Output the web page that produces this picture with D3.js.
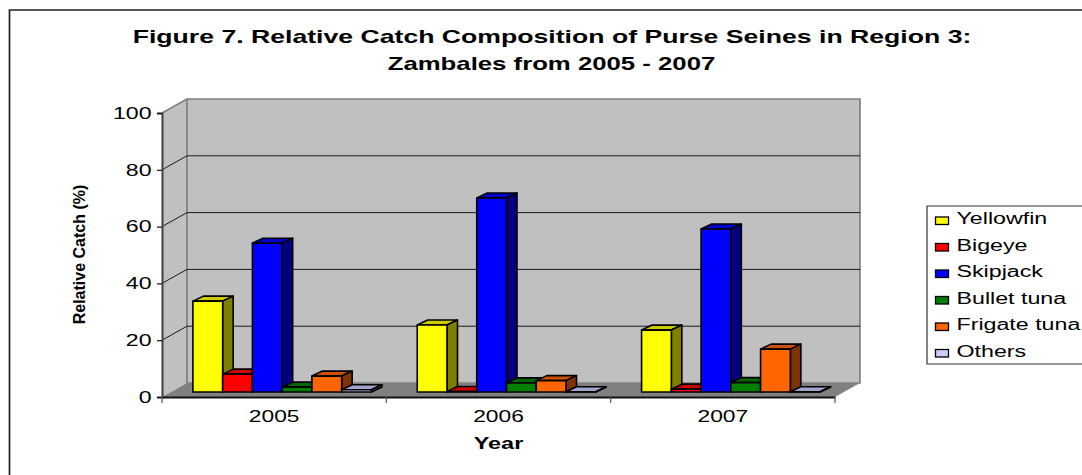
<!DOCTYPE html>
<html>
<head>
<meta charset="utf-8">
<script src="https://cdnjs.cloudflare.com/ajax/libs/d3/7.8.5/d3.min.js"></script>
<style>
  html, body { margin: 0; padding: 0; background: #fff; overflow: hidden; }
  svg { display: block; }
  text { font-family: "Liberation Sans", Arial, sans-serif; fill: #000; }
</style>
</head>
<body>
<svg id="chart" width="1082" height="475"></svg>
<script>
// /////////////////////////////////////////////////////////////////////////////
// DATA
// /////////////////////////////////////////////////////////////////////////////
const years = ['2005', '2006', '2007'];
const seriesNames = ['Yellowfin', 'Bigeye', 'Skipjack', 'Bullet tuna', 'Frigate tuna', 'Others'];
const yellowfin = [32, 23.6, 21.8];
const bigeye = [6.3, 0.2, 1];
const skipjack = [52.4, 68.3, 57.4];
const bulletTuna = [1.7, 3.2, 3.3];
const frigateTuna = [5.6, 4, 15.1];
const others = [0.8, 0.1, 0.1];
const yTicks = [0, 20, 40, 60, 80, 100];
const titleLines = [
  'Figure 7. Relative Catch Composition of Purse Seines in Region 3:',
  'Zambales from 2005 - 2007',
];

const allValues = [yellowfin, bigeye, skipjack, bulletTuna, frigateTuna, others];
// front, top and side shades for each series
const faces = [
  ['#ffff00', '#cccc00', '#808000'],
  ['#ff0000', '#cc0000', '#800000'],
  ['#0000ff', '#0000cc', '#000080'],
  ['#008000', '#006600', '#004000'],
  ['#ff6600', '#cc5200', '#803300'],
  ['#ccccff', '#a3a3cc', '#666680'],
];

// /////////////////////////////////////////////////////////////////////////////
// SET UP
// /////////////////////////////////////////////////////////////////////////////
const svg = d3.select('#chart');

const plot = { left: 162, right: 835, top: 113, bottom: 397 };
const wall = { dx: 25, dy: -14 }; // how far the back wall sits behind the front plane
const barInset = { dx: 8, dy: -5 }; // front of the bars, measured from the front plane
const barDepth = { dx: 10.5, dy: -5 };

const y = d3.scaleLinear().domain([0, 100]).range([plot.bottom, plot.top]);
const x0 = d3.scaleBand().domain(years).range([plot.left, plot.right]);
const x1 = d3.scaleBand().domain(seriesNames).range([0, x0.bandwidth()]).paddingOuter(0.77);

const poly = pts => pts.map(p => p.join(',')).join(' ');

// Excel-style wide lettering: keep the font height, pull the glyphs sideways
function stretch(sel, factor) {
  sel.each(function (d, i) {
    const f = Array.isArray(factor) ? factor[i] : factor;
    d3.select(this)
      .attr('textLength', this.getComputedTextLength() * f)
      .attr('lengthAdjust', 'spacingAndGlyphs');
  });
}

// /////////////////////////////////////////////////////////////////////////////
// OUTER FRAME + TITLE
// /////////////////////////////////////////////////////////////////////////////
svg.append('path')
  .attr('d', 'M9.5,475V10H1082')
  .attr('fill', 'none')
  .attr('stroke', '#222')
  .attr('stroke-width', 1.7);

svg.selectAll('text.title')
  .data(titleLines)
  .enter()
  .append('text')
    .attr('class', 'title')
    .attr('x', (d, i) => (i === 0 ? 552 : 551.5))
    .attr('y', (d, i) => (i === 0 ? 42.5 : 69.5))
    .attr('text-anchor', 'middle')
    .attr('font-weight', 'bold')
    .attr('font-size', 17.7)
    .text(d => d)
    .call(stretch, [1.505, 1.455]);

// /////////////////////////////////////////////////////////////////////////////
// WALLS + GRID
// /////////////////////////////////////////////////////////////////////////////
const y0 = y(0);
const y100 = y(100);

svg.append('polygon')
  .attr('points', poly([[plot.left, y100], [plot.left + wall.dx, y100 + wall.dy], [plot.left + wall.dx, y0 + wall.dy], [plot.left, y0]]))
  .attr('fill', '#c0c0c0');
svg.append('polygon')
  .attr('points', poly([[plot.left + wall.dx, y100 + wall.dy], [plot.right + wall.dx, y100 + wall.dy], [plot.right + wall.dx, y0 + wall.dy], [plot.left + wall.dx, y0 + wall.dy]]))
  .attr('fill', '#c0c0c0')
  .attr('stroke', '#808080')
  .attr('stroke-width', 1.7);
svg.append('polygon')
  .attr('points', poly([[plot.left, y0], [plot.left + wall.dx, y0 + wall.dy], [plot.right + wall.dx, y0 + wall.dy], [plot.right, y0]]))
  .attr('fill', '#808080');

// gridlines run along the side wall and then across the back wall
svg.selectAll('polyline.grid')
  .data(yTicks.filter(d => d > 0 && d < 100))
  .enter()
  .append('polyline')
    .attr('class', 'grid')
    .attr('points', d => poly([[plot.left, y(d)], [plot.left + wall.dx, y(d) + wall.dy], [plot.right + wall.dx, y(d) + wall.dy]]))
    .attr('fill', 'none')
    .attr('stroke', '#1a1a1a')
    .attr('stroke-width', 1);

svg.append('line')
  .attr('x1', plot.left).attr('y1', y100)
  .attr('x2', plot.left + wall.dx).attr('y2', y100 + wall.dy)
  .attr('stroke', '#808080')
  .attr('stroke-width', 1.5);

// /////////////////////////////////////////////////////////////////////////////
// BARS
// /////////////////////////////////////////////////////////////////////////////
seriesNames.forEach((name, s) => {
  years.forEach((year, i) => {
    const left = x0(year) + x1(name) + barInset.dx;
    const right = left + x1.bandwidth();
    const bottom = y(0) + barInset.dy;
    const top = bottom - (y(0) - y(allValues[s][i]));
    const g = svg.append('g')
      .attr('stroke', '#000')
      .attr('stroke-width', 1.6)
      .attr('stroke-linejoin', 'round');
    g.append('polygon') // top face
      .attr('points', poly([[left, top], [left + barDepth.dx, top + barDepth.dy], [right + barDepth.dx, top + barDepth.dy], [right, top]]))
      .attr('fill', faces[s][1]);
    g.append('polygon') // side face
      .attr('points', poly([[right, top], [right + barDepth.dx, top + barDepth.dy], [right + barDepth.dx, bottom + barDepth.dy], [right, bottom]]))
      .attr('fill', faces[s][2]);
    g.append('rect') // front face
      .attr('x', left)
      .attr('y', top)
      .attr('width', x1.bandwidth())
      .attr('height', bottom - top)
      .attr('fill', faces[s][0]);
  });
});

// /////////////////////////////////////////////////////////////////////////////
// AXES
// /////////////////////////////////////////////////////////////////////////////
const yAxis = svg.append('g')
  .attr('transform', `translate(${plot.left},0)`)
  .call(d3.axisLeft(y).tickValues(yTicks).tickSize(5).tickPadding(5.5));
yAxis.select('.domain').attr('stroke', '#404040').attr('stroke-width', 2);
yAxis.selectAll('.tick line').attr('stroke', '#111').attr('stroke-width', 1.2);
yAxis.selectAll('.tick text')
  .attr('font-size', 16.5)
  .attr('font-family', null)
  .call(stretch, 1.4);

const xAxis = svg.append('g')
  .attr('transform', `translate(0,${plot.bottom})`)
  .call(d3.axisBottom(x0).tickSize(0).tickPadding(13));
xAxis.select('.domain').attr('stroke', '#111').attr('stroke-width', 2);
xAxis.selectAll('.tick text')
  .attr('font-size', 16.5)
  .attr('font-family', null)
  .call(stretch, 1.38);

// separators sit on the band edges, not the band centres
xAxis.selectAll('line.sep')
  .data(d3.range(years.length + 1))
  .enter()
  .append('line')
    .attr('class', 'sep')
    .attr('x1', d => plot.left + d * x0.step())
    .attr('x2', d => plot.left + d * x0.step())
    .attr('y1', 0)
    .attr('y2', 6)
    .attr('stroke', '#555')
    .attr('stroke-width', 1.2);

svg.append('text')
  .attr('x', x0('2006') + x0.bandwidth() / 2)
  .attr('y', 449)
  .attr('text-anchor', 'middle')
  .attr('font-weight', 'bold')
  .attr('font-size', 16.5)
  .text('Year')
  .call(stretch, 1.42);

svg.append('text')
  .attr('transform', 'translate(85,254.5) rotate(-90)')
  .attr('text-anchor', 'middle')
  .attr('font-weight', 'bold')
  .attr('font-size', 16.5)
  .text('Relative Catch (%)')
  .call(stretch, 0.97);

// /////////////////////////////////////////////////////////////////////////////
// LEGEND
// /////////////////////////////////////////////////////////////////////////////
svg.append('path')
  .attr('d', 'M1082,206H927V364H1082')
  .attr('fill', '#fff')
  .attr('stroke', '#333')
  .attr('stroke-width', 1.2);

const legend = svg.selectAll('g.legend')
  .data(seriesNames)
  .enter()
  .append('g')
    .attr('class', 'legend')
    .attr('transform', (d, i) => `translate(0,${224 + i * 26.5})`);

legend.append('rect')
  .attr('x', 935.5)
  .attr('y', -7)
  .attr('width', 13)
  .attr('height', 7.5)
  .attr('fill', (d, i) => faces[i][0])
  .attr('stroke', '#000')
  .attr('stroke-width', 1.3);

legend.append('text')
  .attr('x', 956.5)
  .attr('font-size', 16)
  .text(d => d)
  .call(stretch, 1.45);
</script>
</body>
</html>
